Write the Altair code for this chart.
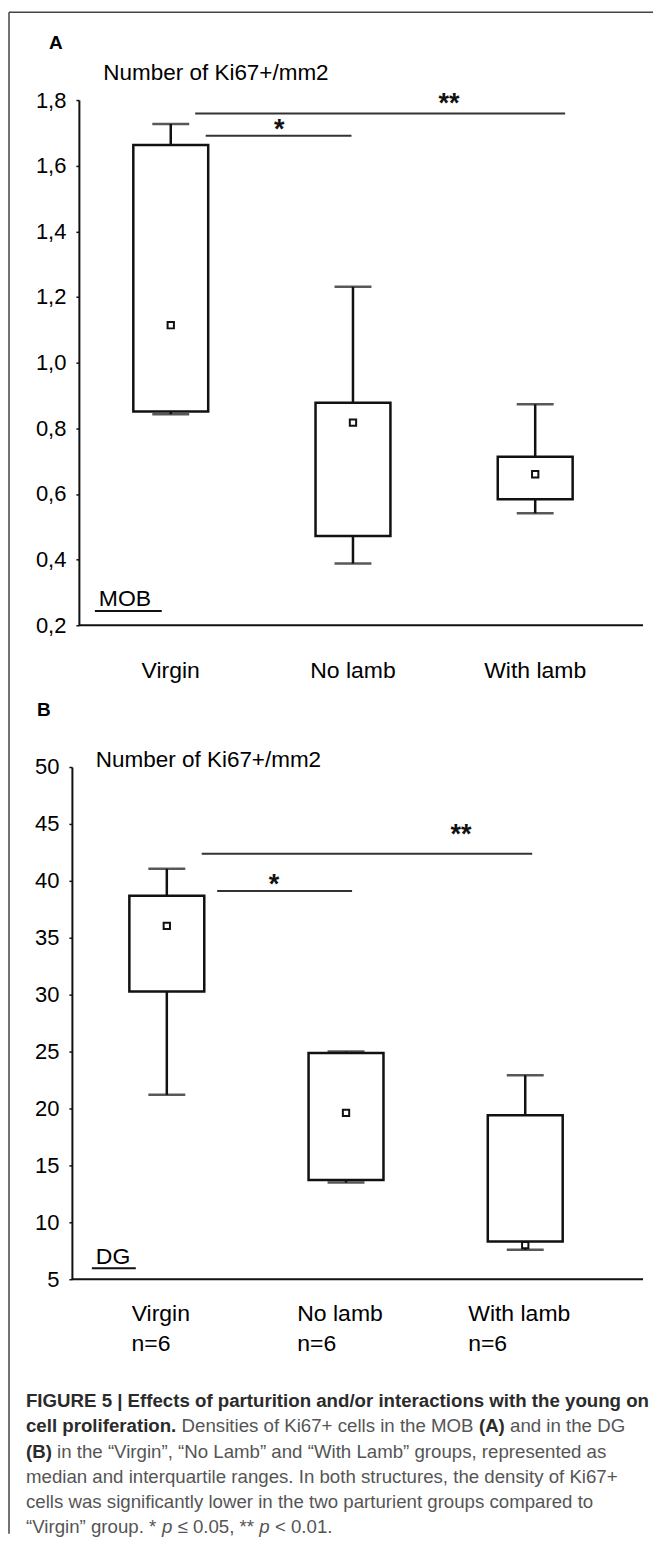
import altair as alt
import pandas as pd

FONT = "Liberation Sans"
INK = "#111111"

# ---------------- data ----------------
groups = ["Virgin", "No lamb", "With lamb"]
n_labels = ["n=6", "n=6", "n=6"]

# Panel A (MOB)
mob_lo = [0.843, 0.388, 0.541]
mob_q1 = [0.851, 0.472, 0.584]
mob_med = [1.114, 0.817, 0.660]
mob_q3 = [1.663, 0.878, 0.713]
mob_hi = [1.727, 1.231, 0.873]
mob_ticks = [0.2, 0.4, 0.6, 0.8, 1.0, 1.2, 1.4, 1.6, 1.8]
mob_sig = [1.691, 1.759]

# Panel B (DG)
dg_lo = [21.2, 13.49, 7.58]
dg_q1 = [30.28, 13.72, 8.32]
dg_med = [36.04, 19.62, 8.0]
dg_q3 = [38.7, 24.88, 19.41]
dg_hi = [41.06, 25.0, 22.92]
dg_ticks = [5, 10, 15, 20, 25, 30, 35, 40, 45, 50]
dg_sig = [39.1, 42.38]

sig_labels = ["*", "**"]

W = 572
HA = 526
HB = 513
BANDW = 75

# Arial-compatible advance widths (per 1000 em) used to lay out mixed-style text
REG = {' ': 278, '\u201c': 333, '\u201d': 333, 'V': 667, 'i': 222, 'r': 333, 'g': 556, 'n': 556,
       'o': 556, 'u': 556, 'p': 556, '.': 278, '*': 389, '\u2264': 549, '0': 556, '5': 556,
       ',': 278, '<': 584, '1': 556, 'D': 722, 'e': 556, 's': 500, 't': 278, 'f': 278,
       'K': 667, '6': 556, '7': 556, '+': 584, 'c': 500, 'l': 222, 'h': 556, 'M': 833,
       'O': 778, 'B': 667, 'a': 556, 'd': 556, 'N': 722, 'm': 833, 'b': 556, 'W': 944,
       '=': 584}
BOLD = {' ': 278, 'c': 556, 'e': 556, 'l': 278, 'p': 611, 'r': 389, 'o': 611, 'i': 278,
        'f': 333, 'a': 556, 't': 333, 'n': 611, '.': 278, '(': 333, 'A': 722, ')': 333,
        'B': 722}


def tw(s, size, bold=False):
    tab = BOLD if bold else REG
    return sum(tab.get(ch, 556) for ch in s) * size / 1000.0


def panel(lo, q1, med, q3, hi, domain, ticks, label_expr, H, xscale, axis_offset):
    df = pd.DataFrame({"group": groups, "n": n_labels, "lo": lo, "q1": q1,
                       "med": med, "q3": q3, "hi": hi})
    # offset (from band start) that left-aligns "n=6" under the centred group label
    df["n_off"] = [BANDW / 2 - 6 - tw(g, 23) / 2 for g in groups]
    ax = alt.Axis(values=ticks, labelExpr=label_expr, offset=axis_offset,
                  domainColor=INK, domainWidth=2, tickColor=INK, tickWidth=1.5,
                  tickSize=3, labelPadding=10, labelFontSize=22, labelColor="black",
                  labelFont=FONT, grid=False, title=None)
    ys = alt.Scale(domain=domain, nice=False, zero=False)

    def Y(f):
        return alt.Y(f"{f}:Q", scale=ys, axis=ax, title=None)

    X = alt.X("group:N", scale=xscale, axis=None, sort=groups, title=None)
    base = alt.Chart(df)
    layers = [
        base.mark_rule(color=INK, strokeWidth=2.5).encode(x=X, y=Y("lo"), y2="hi:Q"),
        base.mark_bar(fill="white", stroke=INK, strokeWidth=2.5).encode(x=X, y=Y("q1"), y2="q3:Q"),
        base.mark_tick(color=INK, size=37, thickness=2.5).encode(x=X, y=Y("lo")),
        base.mark_tick(color=INK, size=37, thickness=2.5).encode(x=X, y=Y("hi")),
        base.mark_point(shape="square", size=40, filled=True, fill="white", stroke=INK,
                        strokeWidth=2, opacity=1).encode(x=X, y=Y("med")),
    ]
    return layers, base, X, Y


one = alt.Chart(pd.DataFrame({"k": [0]}))


def txt(s, x, y, size=22, weight="normal", align="left", color="black", style="normal"):
    return one.mark_text(text=s, font=FONT, fontSize=size, fontWeight=weight, align=align,
                         baseline="middle", color=color, fontStyle=style).encode(
        x=alt.value(x), y=alt.value(y))


def hline(x0, x1, y, w=2, color=INK):
    return one.mark_rule(color=color, strokeWidth=w).encode(
        x=alt.value(x0), x2=alt.value(x1), y=alt.value(y))


# ---------------- Panel A ----------------
xA = alt.Scale(type="band", domain=groups, paddingInner=0.589, paddingOuter=0.3616, align=0.466)
layersA, baseA, XA, YA = panel(mob_lo, mob_q1, mob_med, mob_q3, mob_hi, [0.2, 1.8], mob_ticks,
                               "replace(format(datum.value, '.1f'), '.', ',')", HA, xA, -7)

sigA = []
for yv, lab, (x0, x1), tx, dy in zip(mob_sig, sig_labels, [(134, 280), (123.5, 494)],
                                     [207.6, 377.7], [2.5, -1.5]):
    d = alt.Chart(pd.DataFrame({"y": [yv]}))
    sigA.append(d.mark_rule(color="#333333", strokeWidth=2).encode(
        x=alt.value(x0), x2=alt.value(x1), y=YA("y")))
    sigA.append(d.mark_text(text=lab, font=FONT, fontSize=27, fontWeight="bold",
                            baseline="alphabetic", dy=dy, color=INK).encode(
        x=alt.value(tx), y=YA("y")))

annA = [
    # figure frame
    one.mark_rule(color="#444444", strokeWidth=1.5).encode(
        x=alt.value(-63), y=alt.value(-88), y2=alt.value(1436)),
    hline(-63, 582, -88, 1.5, "#444444"),
    # x axis line
    hline(7, W, HA, 2),
    txt("A", -23, -57, 19, "bold"),
    txt("Number of Ki67+/mm2", 31.5, -27, 22.5),
    txt("MOB", 27, 499.3, 23),
    hline(23, 90, 511.7, 2),
    baseA.mark_text(font=FONT, fontSize=23, baseline="middle", color="black").encode(
        x=XA, y=alt.value(572), text="group:N"),
]

panelA = alt.layer(*layersA, *sigA, *annA).properties(width=W, height=HA)

# ---------------- Panel B ----------------
xB = alt.Scale(type="band", domain=groups, paddingInner=0.582, paddingOuter=0.3844, align=0.417)
layersB, baseB, XB, YB = panel(dg_lo, dg_q1, dg_med, dg_q3, dg_hi, [5, 50], dg_ticks,
                               "format(datum.value, 'd')", HB, xB, 0)

sigB = []
for yv, lab, (x0, x1), tx, dy in zip(dg_sig, sig_labels, [(145.5, 280.6), (130, 461)],
                                     [202.5, 389.6], [2.0, -10.5]):
    d = alt.Chart(pd.DataFrame({"y": [yv]}))
    sigB.append(d.mark_rule(color="#333333", strokeWidth=2).encode(
        x=alt.value(x0), x2=alt.value(x1), y=YB("y")))
    sigB.append(d.mark_text(text=lab, font=FONT, fontSize=27, fontWeight="bold",
                            baseline="alphabetic", dy=dy, color=INK).encode(
        x=alt.value(tx), y=YB("y")))

# caption (page coords -> panel-relative), mixed styles laid out left to right
CB = "#2b2b2b"
CN = "#555555"
CS = 18.7
cap_y = [1402 - 767, 1427.5 - 767, 1453 - 767, 1478 - 767, 1503.5 - 767, 1528.5 - 767]
X0 = 26 - 72


def cap_line(segments, y):
    out = []
    x = X0
    for s, bold, italic in segments:
        out.append(txt(s, x, y, CS, "bold" if bold else "normal",
                       color=CB if bold else CN, style="italic" if italic else "normal"))
        x += tw(s, CS, bold) + tw(" ", CS, bold)
    return out


caption = []
caption += cap_line([("FIGURE 5 | Effects of parturition and/or interactions with the young on", True, False)], cap_y[0])
caption += cap_line([("cell proliferation.", True, False),
                     ("Densities of Ki67+ cells in the MOB", False, False),
                     ("(A)", True, False),
                     ("and in the DG", False, False)], cap_y[1])
caption += cap_line([("(B)", True, False),
                     ("in the \u201cVirgin\u201d, \u201cNo Lamb\u201d and \u201cWith Lamb\u201d groups, represented as", False, False)], cap_y[2])
caption += cap_line([("median and interquartile ranges. In both structures, the density of Ki67+", False, False)], cap_y[3])
caption += cap_line([("cells was significantly lower in the two parturient groups compared to", False, False)], cap_y[4])
caption += cap_line([("\u201cVirgin\u201d group. *", False, False),
                     ("p", False, True),
                     ("\u2264 0.05, **", False, False),
                     ("p", False, True),
                     ("< 0.01.", False, False)], cap_y[5])

annB = [
    hline(0, W, HB, 2),
    txt("B", -35, -57, 19, "bold"),
    txt("Number of Ki67+/mm2", 24, -7, 22.5),
    txt("DG", 24, 491, 23),
    hline(20, 64, 502, 2),
    baseB.mark_text(font=FONT, fontSize=23, baseline="middle", dx=-6, color="black").encode(
        x=XB, y=alt.value(548), text="group:N"),
    baseB.mark_text(font=FONT, fontSize=23, baseline="middle", align="left", color="black").encode(
        x=XB, xOffset=alt.XOffset("n_off:Q", scale=None), y=alt.value(578), text="n:N"),
]

panelB = alt.layer(*layersB, *sigB, *annB, *caption).properties(width=W, height=HB)

chart = alt.vconcat(panelA, panelB, spacing=142, bounds="flush").resolve_scale(
    x="independent", y="independent"
).properties(
    padding={"left": 0, "top": 2, "right": 0, "bottom": 0}
).configure(font=FONT, background="white").configure_view(stroke=None)

chart.save("out.html", embed_options={"renderer": "svg", "actions": False})
